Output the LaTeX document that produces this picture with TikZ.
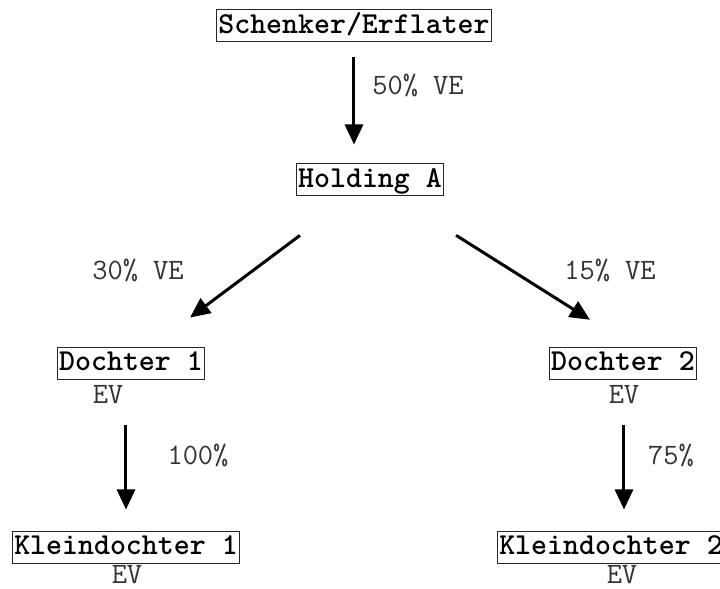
\documentclass[tikz,border=0pt]{standalone}
\usepackage{fontspec}
\usetikzlibrary{arrows.meta, positioning}

\begin{document}
\begin{tikzpicture}[
        % pixel grid of the sketch
        x=0.5pt,
        y=-0.5pt,
        >={Triangle[length=10pt, width=9pt]},
        every node/.style={font=\ttfamily\fontsize{14.8}{16}\selectfont},
        party/.style={draw=black!85, line width=0.5pt, font=\ttfamily\bfseries\fontsize{15.2}{16}\selectfont,
            inner xsep=1pt, inner ysep=1.5pt, text height=10pt, text depth=3pt},
        share/.style={inner sep=0pt, text height=9pt, text depth=0pt, text=black!80},
        link/.style={->, line width=1.5pt}
    ]
    \useasboundingbox (0,0) rectangle (720,589);

    \node[party] (schenker) at (354,26) {Schenker/Erflater};
    \node[party] (holding) at (370,180) {Holding A};
    \node[party] (d1) at (131,364) {Dochter 1};
    \node[party] (d2) at (623,364) {Dochter 2};
    \node[party] (k1) at (126,548) {Kleindochter 1};
    \node[party] (k2) at (611,548) {Kleindochter 2};

    \node[share] (ev1) at (108,395) {EV};
    \node[share] (ev2) at (624,395) {EV};
    \node[share] (kev1) at (127,575) {EV};
    \node[share] (kev2) at (622,575) {EV};

    \node[share] (p50) at (418,86) {50\% VE};
    \node[share] (p30) at (138,270) {30\% VE};
    \node[share] (p15) at (610,270) {15\% VE};
    \node[share] (p100) at (198,456) {100\%};
    \node[share] (p75) at (671,456) {75\%};

    \draw[link, shorten <=7.5pt, shorten >=9.5pt] (schenker.south) -- (schenker.south |- holding.north);
    \draw[link, shorten <=32.5pt, shorten >=25pt] ([xshift=-9pt]holding.south) -- ([xshift=9.5pt]d1.north);
    \draw[link, shorten <=36.4pt, shorten >=26pt] ([xshift=12.25pt]holding.south) -- ([xshift=5.5pt]d2.north);
    \draw[link, shorten <=10.5pt, shorten >=11pt] (k1.north |- ev1.south) -- (k1.north);
    \draw[link, shorten <=10.5pt, shorten >=11pt] (ev2.south) -- (ev2.south |- k2.north);
\end{tikzpicture}
\end{document}
